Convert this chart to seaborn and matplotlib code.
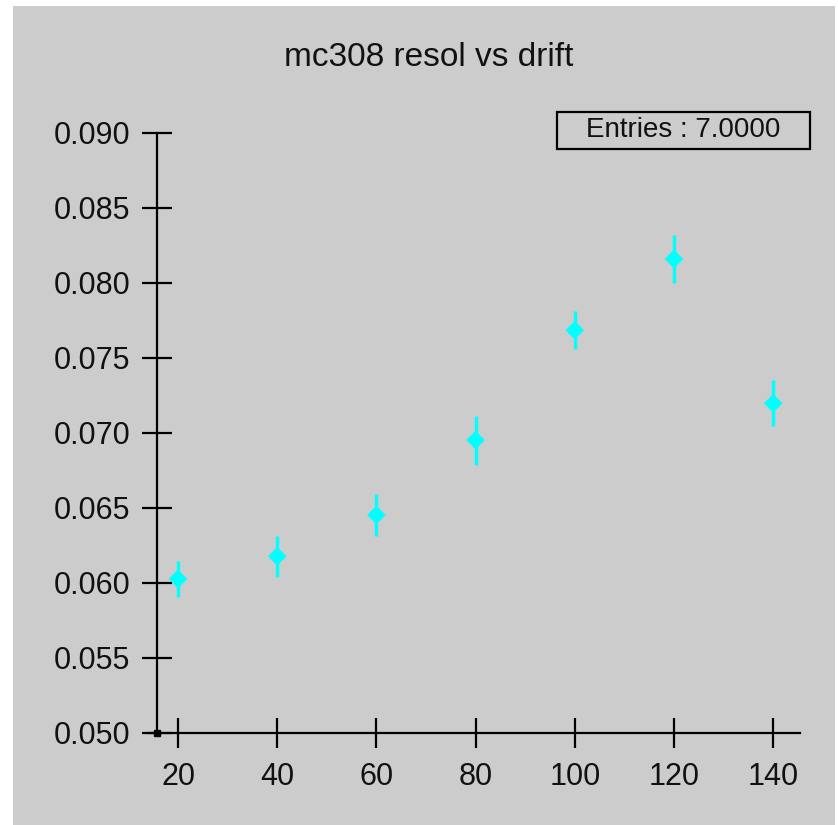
import matplotlib
matplotlib.use("Agg")
import matplotlib.pyplot as plt
from matplotlib.patches import Rectangle
import numpy as np
import pandas as pd
import seaborn as sns

# drift distance bins and fitted resolution with its uncertainty
drift = [20, 40, 60, 80, 100, 120, 140]
resol = [0.06027, 0.06178, 0.06453, 0.06953, 0.07685, 0.08160, 0.07198]
resol_err = [0.00119, 0.00135, 0.00142, 0.00163, 0.00127, 0.00163, 0.00153]
y_ticks = [0.050, 0.055, 0.060, 0.065, 0.070, 0.075, 0.080, 0.085, 0.090]
x_ticks = [20, 40, 60, 80, 100, 120, 140]
title = "mc308 resol vs drift"
entries_label = "Entries : 7.0000"

df = pd.DataFrame({"drift": drift, "resol": resol, "err": resol_err})

sns.set_style("white")
plt.rcParams["font.family"] = ["Liberation Sans", "DejaVu Sans"]

W, H = 838, 825
fig = plt.figure(figsize=(W / 100, H / 100), dpi=100, facecolor="white")

# grey panel behind everything
fig.patches.append(Rectangle((13 / W, 0), (835 - 13) / W, (825 - 6) / H,
                             transform=fig.transFigure, facecolor="#cccccc",
                             edgecolor="none", zorder=-10))

ax = fig.add_axes([148 / W, 92 / H, (800 - 148) / W, 600 / H])
ax.set_facecolor("none")
ax.patch.set_alpha(0)

x_left, x_right = 13.95, 145.41
y_axis_at = 15.76
ax.set_xlim(x_left, x_right)
ax.set_ylim(0.050, 0.090)

ax.errorbar(df["drift"], df["resol"], yerr=df["err"], fmt="none",
            ecolor="#00ffff", elinewidth=2.4, capsize=0, zorder=3)
sns.scatterplot(data=df, x="drift", y="resol", ax=ax, marker="D", s=90,
                color="#00ffff", edgecolor="none", linewidth=0, zorder=4,
                legend=False)

for side in ("top", "right"):
    ax.spines[side].set_visible(False)
ax.spines["left"].set_position(("data", y_axis_at))
ax.spines["bottom"].set_position(("data", 0.050))
for side in ("left", "bottom"):
    ax.spines[side].set_linewidth(1.6)
    ax.spines[side].set_color("black")

ax.set_xticks(x_ticks)
ax.set_xticklabels([str(v) for v in x_ticks])
ax.set_yticks(y_ticks)
ax.set_yticklabels([f"{v:.3f}" for v in y_ticks])
ax.tick_params(axis="both", direction="inout", length=22, width=1.6,
               colors="black", labelsize=22, labelcolor="#111111",
               bottom=True, left=True, top=False, right=False)
ax.tick_params(axis="x", pad=10)
ax.tick_params(axis="y", pad=8)
ax.set_xlabel("")
ax.set_ylabel("")

# small square at the axes origin
ax.plot([y_axis_at], [0.050], marker="s", markersize=4, color="black",
        clip_on=False, zorder=5)

fig.text(429 / W, 1 - 58 / H, title, ha="center", va="center",
         fontsize=24, color="#111111")

# statistics box
fig.patches.append(Rectangle((557 / W, 1 - 149 / H), (810 - 557) / W, 37 / H,
                             transform=fig.transFigure, facecolor="none",
                             edgecolor="black", linewidth=1.6, zorder=2))
fig.text(683 / W, 1 - 130 / H, entries_label, ha="center", va="center",
         fontsize=20, color="#111111")

fig.savefig("out.png", dpi=100, facecolor=fig.get_facecolor())
